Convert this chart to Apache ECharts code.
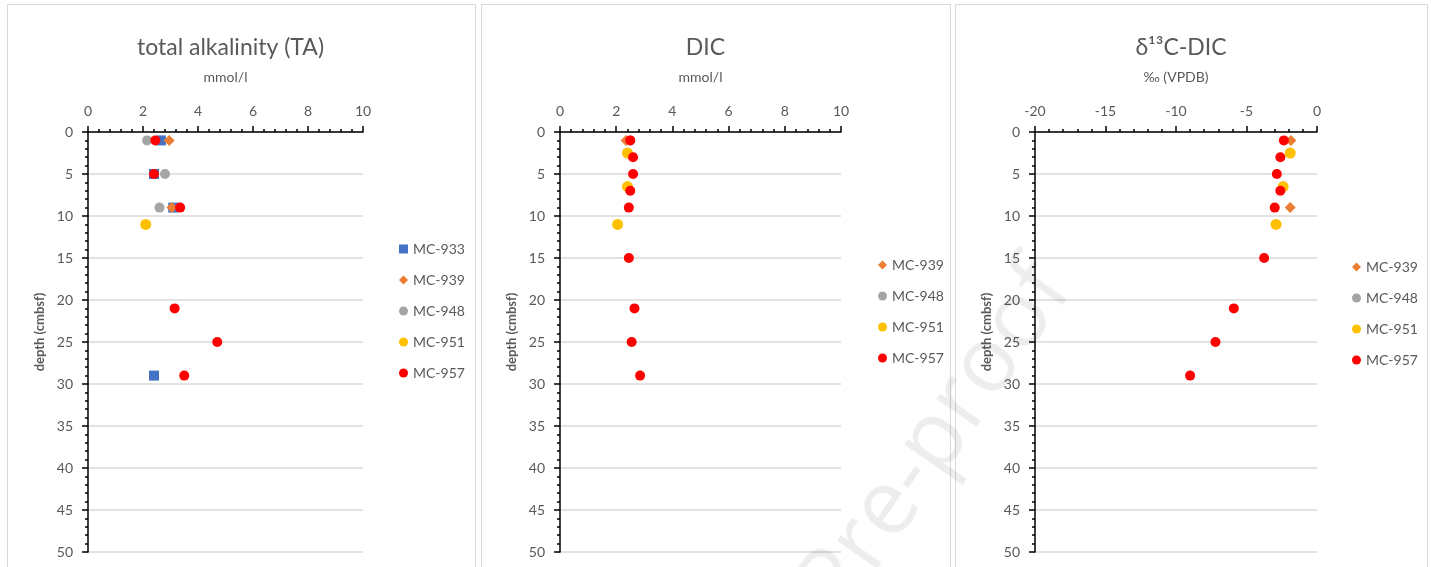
<!DOCTYPE html>
<html>
<head>
<meta charset="utf-8">
<script src="https://cdn.jsdelivr.net/npm/echarts@6/dist/echarts.min.js"></script>
<style>
    html, body { margin: 0; padding: 0; background: #fff; overflow: hidden; }
    body { width: 1431px; height: 567px; position: relative; }
    .panel { position: absolute; top: 4px; height: 620px; border: 1px solid #d9d9d9; box-sizing: border-box; background: #fff; }
    #p1 { left: 7px; width: 469px; }
    #p2 { left: 481px; width: 470px; }
    #p3 { left: 955px; width: 473px; }
    .wm {
        position: absolute; left: 145px; top: 218px; width: 900px; height: 100px;
        line-height: 100px; font-size: 91px; font-family: "Open Sans", sans-serif;
        white-space: nowrap; text-align: right; color: rgba(0, 0, 0, 0.07);
        transform-origin: 100% 50%; transform: rotate(-55deg); pointer-events: none;
    }
</style>
</head>
<body>
<div id="p1" class="panel"></div>
<div id="p2" class="panel"></div>
<div id="p3" class="panel"></div>
<div class="wm">Journal Pre-proof</div>
<script>
// depth in cmbsf
const taDepth933 = [1, 5, 9, 29];
const taValue933 = [2.65, 2.4, 3.1, 2.4];
const taDepth939 = [1, 9];
const taValue939 = [2.95, 3.05];
const taDepth948 = [1, 5, 9];
const taValue948 = [2.15, 2.8, 2.6];
const taDepth951 = [11];
const taValue951 = [2.1];
const taDepth957 = [1, 5, 9, 21, 25, 29];
const taValue957 = [2.45, 2.4, 3.35, 3.15, 4.7, 3.5];

const dicDepth939 = [1];
const dicValue939 = [2.35];
const dicDepth948 = [1];
const dicValue948 = [2.5];
const dicDepth951 = [2.5, 6.5, 11];
const dicValue951 = [2.4, 2.4, 2.05];
const dicDepth957 = [1, 3, 5, 7, 9, 15, 21, 25, 29];
const dicValue957 = [2.5, 2.6, 2.6, 2.5, 2.45, 2.45, 2.65, 2.55, 2.85];

const d13Depth939 = [1, 9];
const d13Value939 = [-1.85, -1.9];
const d13Depth948 = [];
const d13Value948 = [];
const d13Depth951 = [2.5, 6.5, 11];
const d13Value951 = [-1.9, -2.4, -2.9];
const d13Depth957 = [1, 3, 5, 7, 9, 15, 21, 25, 29];
const d13Value957 = [-2.35, -2.6, -2.85, -2.6, -3.0, -3.75, -5.9, -7.2, -9.0];

const depthTicks = [0, 50, 5];

const FONT = 'Lato, "Open Sans", sans-serif';
const GREY = '#595959';

const cores = {
    'MC-933': {color: '#4472C4', symbol: 'rect', size: 10},
    'MC-939': {color: '#ED7D31', symbol: 'diamond', size: 11},
    'MC-948': {color: '#A5A5A5', symbol: 'circle', size: 10},
    'MC-951': {color: '#FFC000', symbol: 'circle', size: 11},
    'MC-957': {color: '#FF0000', symbol: 'circle', size: 10}
};

function pairs(xs, ds) {
    return xs.map(function (v, i) { return [v, ds[i]]; });
}

function scatter(name, xs, ds) {
    const c = cores[name];
    return {
        name: name,
        type: 'scatter',
        symbol: c.symbol,
        symbolSize: c.size,
        itemStyle: {color: c.color, opacity: 1},
        data: pairs(xs, ds)
    };
}

function makePanel(id, cfg) {
    const chart = echarts.init(document.getElementById(id));
    const gridCenter = cfg.gridLeft + cfg.gridWidth / 2;
    chart.setOption({
        animation: false,
        textStyle: {fontFamily: FONT},
        title: {
            text: cfg.title,
            left: gridCenter,
            top: 26,
            textAlign: 'center',
            textStyle: {fontFamily: FONT, fontSize: 23, fontWeight: 'normal', color: GREY}
        },
        legend: {
            orient: 'vertical',
            left: cfg.legendLeft,
            top: cfg.legendTop,
            itemWidth: 9,
            itemHeight: 9,
            itemGap: 17,
            textStyle: {fontFamily: FONT, fontSize: 14, color: GREY},
            data: cfg.series.map(function (s) {
                return {name: s.name, icon: cores[s.name].symbol};
            })
        },
        grid: {left: cfg.gridLeft, top: 127, width: cfg.gridWidth, height: 420},
        xAxis: {
            type: 'value',
            position: 'top',
            min: cfg.xMin,
            max: cfg.xMax,
            interval: cfg.xInterval,
            name: cfg.xName,
            nameLocation: 'middle',
            nameGap: 48,
            nameTextStyle: {fontFamily: FONT, fontSize: 14, color: GREY},
            axisLine: {show: true, onZero: false, lineStyle: {color: '#000', width: 1.5}},
            axisTick: {show: true, length: 6, lineStyle: {color: '#000', width: 1.5}},
            minorTick: {show: true, splitNumber: 5, length: 3, lineStyle: {color: '#000', width: 1.5}},
            axisLabel: {fontFamily: FONT, fontSize: 14, color: GREY, margin: 14},
            splitLine: {show: false}
        },
        yAxis: {
            type: 'value',
            inverse: true,
            min: depthTicks[0],
            max: depthTicks[1],
            interval: depthTicks[2],
            name: 'depth (cmbsf)',
            nameLocation: 'middle',
            nameGap: 38,
            nameRotate: 90,
            nameTextStyle: {fontFamily: FONT, fontSize: 13, fontWeight: 'bold', color: GREY, padding: [0, 0, 0, 20]},
            axisLine: {show: true, onZero: false, lineStyle: {color: '#000', width: 1.5}},
            axisTick: {show: true, length: 6, lineStyle: {color: '#000', width: 1.5}},
            minorTick: {show: true, splitNumber: 5, length: 3, lineStyle: {color: '#000', width: 1.5}},
            axisLabel: {fontFamily: FONT, fontSize: 14, color: GREY, margin: 15},
            splitLine: {show: true, lineStyle: {color: '#d9d9d9', width: 1.5}}
        },
        series: cfg.series
    });
}

makePanel('p1', {
    title: 'total alkalinity (TA)',
    xName: 'mmol/l',
    xMin: 0, xMax: 10, xInterval: 2,
    gridLeft: 80, gridWidth: 275,
    legendLeft: 386, legendTop: 232,
    series: [
        scatter('MC-933', taValue933, taDepth933),
        scatter('MC-939', taValue939, taDepth939),
        scatter('MC-948', taValue948, taDepth948),
        scatter('MC-951', taValue951, taDepth951),
        scatter('MC-957', taValue957, taDepth957)
    ]
});

makePanel('p2', {
    title: 'DIC',
    xName: 'mmol/l',
    xMin: 0, xMax: 10, xInterval: 2,
    gridLeft: 78, gridWidth: 281,
    legendLeft: 391, legendTop: 248,
    series: [
        scatter('MC-939', dicValue939, dicDepth939),
        scatter('MC-948', dicValue948, dicDepth948),
        scatter('MC-951', dicValue951, dicDepth951),
        scatter('MC-957', dicValue957, dicDepth957)
    ]
});

makePanel('p3', {
    title: 'δ¹³C-DIC',
    xName: '‰ (VPDB)',
    xMin: -20, xMax: 0, xInterval: 5,
    gridLeft: 79, gridWidth: 282,
    legendLeft: 391, legendTop: 250,
    series: [
        scatter('MC-939', d13Value939, d13Depth939),
        scatter('MC-948', d13Value948, d13Depth948),
        scatter('MC-951', d13Value951, d13Depth951),
        scatter('MC-957', d13Value957, d13Depth957)
    ]
});
</script>
</body>
</html>
